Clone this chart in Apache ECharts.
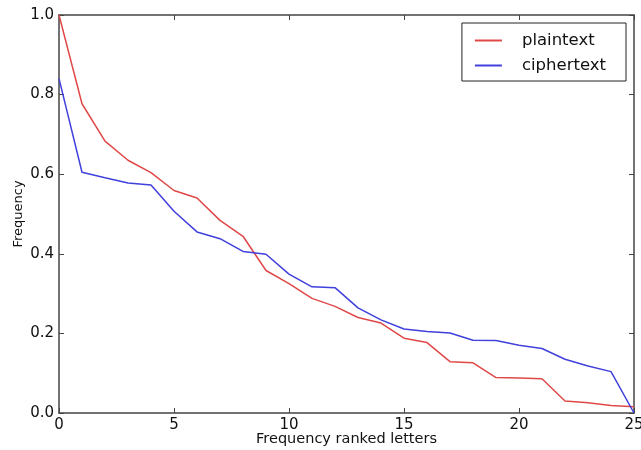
<!DOCTYPE html>
<html>
<head>
<meta charset="utf-8">
<script src="https://cdn.jsdelivr.net/npm/echarts@6/dist/echarts.min.js"></script>
<style>html,body{margin:0;padding:0;background:#fff}#c{width:641px;height:450px}</style>
</head>
<body>
<div id="c"></div>
<script>
const ranks = [0,1,2,3,4,5,6,7,8,9,10,11,12,13,14,15,16,17,18,19,20,21,22,23,24,25];
const plaintext = [1.0,0.777,0.683,0.635,0.604,0.559,0.540,0.484,0.444,0.358,0.325,0.288,0.268,0.240,0.226,0.188,0.177,0.129,0.126,0.089,0.088,0.086,0.030,0.026,0.019,0.016];
const ciphertext = [0.84,0.605,0.591,0.578,0.573,0.507,0.455,0.438,0.406,0.399,0.349,0.317,0.315,0.264,0.234,0.211,0.205,0.201,0.183,0.182,0.170,0.162,0.135,0.118,0.104,0.0];
const xTicks = [0,5,10,15,20,25];
const yTicks = [0.0,0.2,0.4,0.6,0.8,1.0];

const font = 'DejaVu Sans';
const axisColor = '#444';
function pairs(vals){ return ranks.map((r,i)=>[r, vals[i]]); }

const chart = echarts.init(document.getElementById('c'));
chart.setOption({
  backgroundColor: '#fff',
  animation: false,
  grid: {left: 59, right: 7, top: 15, bottom: 37, containLabel: false, outerBoundsMode: 'none'},
  legend: {
    orient: 'vertical',
    right: 15, top: 23,
    padding: [9, 20, 7, 13],
    borderColor: '#222', borderWidth: 1,
    itemWidth: 27, itemHeight: 2, itemGap: 8,
    icon: 'rect',
    textStyle: {fontFamily: font, fontSize: 16.5, color: '#111', padding: [0,0,0,15]},
    data: ['plaintext','ciphertext']
  },
  xAxis: [{
    type: 'value', min: xTicks[0], max: xTicks[xTicks.length-1], interval: 5,
    name: 'Frequency ranked letters', nameLocation: 'middle', nameGap: 19, nameMoveOverlap: false,
    nameTextStyle: {fontFamily: font, fontSize: 14.5, color: '#111'},
    axisLine: {onZero: false, lineStyle: {color: axisColor, width: 1.5}},
    axisTick: {inside: true, length: 5, lineStyle: {color: axisColor}},
    axisLabel: {fontFamily: font, fontSize: 15, color: '#111', margin: 5},
    splitLine: {show: false}
  },{
    type: 'value', position: 'top', min: 0, max: 25, interval: 5,
    axisLine: {show: true, onZero: false, lineStyle: {color: axisColor, width: 1.5}},
    axisTick: {inside: true, length: 5, lineStyle: {color: axisColor}},
    axisLabel: {show: false}, splitLine: {show: false}
  }],
  yAxis: [{
    type: 'value', min: 0, max: 1, interval: 0.2,
    name: 'Frequency', nameLocation: 'middle', nameGap: 34, nameRotate: 90, nameMoveOverlap: false,
    nameTextStyle: {fontFamily: font, fontSize: 13, color: '#111'},
    axisLine: {show: true, onZero: false, lineStyle: {color: axisColor, width: 1.5}},
    axisTick: {show: true, inside: true, length: 5, lineStyle: {color: axisColor}},
    axisLabel: {fontFamily: font, fontSize: 15, color: '#111', margin: 5, formatter: v => v.toFixed(1)},
    splitLine: {show: false}
  },{
    type: 'value', position: 'right', min: 0, max: 1, interval: 0.2,
    axisLine: {show: true, onZero: false, lineStyle: {color: axisColor, width: 1.5}},
    axisTick: {show: true, inside: true, length: 5, lineStyle: {color: axisColor}},
    axisLabel: {show: false}, splitLine: {show: false}
  }],
  series: [{
    name: 'plaintext', type: 'line', data: pairs(plaintext),
    showSymbol: false, symbol: 'none',
    color: '#e04848',
    lineStyle: {width: 1.5, color: '#e04848'}
  },{
    name: 'ciphertext', type: 'line', data: pairs(ciphertext),
    showSymbol: false, symbol: 'none',
    color: '#4040dc',
    lineStyle: {width: 1.5, color: '#4040dc'}
  }]
});
</script>
</body>
</html>
